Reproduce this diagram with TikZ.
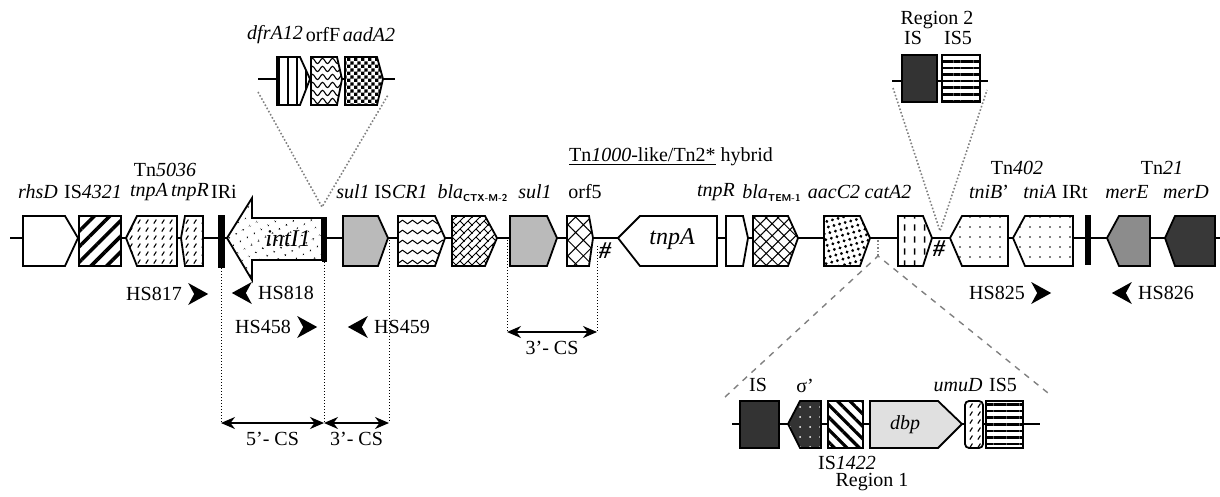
\documentclass[tikz,border=0pt]{standalone}
\usepackage{fontspec}
\setmainfont{Liberation Serif}
\usetikzlibrary{patterns.meta,arrows.meta}

% fill patterns for the genes
\tikzdeclarepattern{name=short dashes, type=uncolored,
  bounding box={(0pt,0pt) and (4pt,4pt)}, tile size={(4pt,4pt)},
  code={\draw[line width=0.6pt] (1pt,0.8pt) -- (2.4pt,3pt);}}
\tikzdeclarepattern{name=waves, type=uncolored,
  bounding box={(-0.3pt,0pt) and (5.3pt,5pt)}, tile size={(5pt,5pt)},
  code={\draw[line width=0.5pt] (0pt,2.5pt) sin (1.25pt,3.4pt) cos (2.5pt,2.5pt) sin (3.75pt,1.6pt) cos (5pt,2.5pt);}}
\tikzdeclarepattern{name=big waves, type=uncolored,
  bounding box={(-0.3pt,0pt) and (5.3pt,4pt)}, tile size={(5pt,4pt)},
  code={\draw[line width=0.55pt] (0pt,2pt) sin (1.25pt,3.3pt) cos (2.5pt,2pt) sin (3.75pt,0.7pt) cos (5pt,2pt);}}
\tikzdeclarepattern{name=herringbone, type=uncolored,
  bounding box={(-0.5pt,-0.5pt) and (4.5pt,4.5pt)}, tile size={(4pt,4pt)},
  code={\draw[line width=0.5pt] (-0.3pt,-0.3pt) -- (4.3pt,4.3pt);
        \draw[line width=0.5pt] (2pt,2pt) -- (4.3pt,-0.3pt);}}
\tikzdeclarepattern{name=vdashes, type=uncolored,
  bounding box={(0pt,0pt) and (5pt,6pt)}, tile size={(5pt,6pt)},
  code={\draw[line width=0.9pt] (2.5pt,1.2pt) -- (2.5pt,4.6pt);}}
\tikzdeclarepattern{name=checker, type=uncolored,
  bounding box={(0pt,0pt) and (3.4pt,3.4pt)}, tile size={(3.4pt,3.4pt)},
  code={\fill (0pt,0pt) rectangle (1.7pt,1.7pt) (1.7pt,1.7pt) rectangle (3.4pt,3.4pt);}}

\begin{document}
\begin{tikzpicture}[
    x=0.5pt, y=-0.5pt,
    backbone/.style={line width=0.9pt},
    gene/.style={draw, line width=0.9pt, preaction={fill=white}},
    white gene/.style={},
    sul gene/.style={fill=black!27},
    mer gray/.style={fill=black!45},
    mer dark/.style={fill=black!78},
    dark box/.style={fill=black!80},
    iscr/.style={pattern=waves},
    ctx/.style={pattern=herringbone},
    cross/.style={pattern={Hatch[angle=45, distance=4.2pt, line width=0.5pt]}},
    wide cross/.style={pattern={Hatch[angle=45, distance=5.5pt, line width=0.5pt]}},
    aac/.style={pattern={Dots[distance=2.9pt, radius=0.8pt, angle=15]}},
    cat/.style={pattern=vdashes},
    tni/.style={pattern={Dots[distance=5pt, radius=0.45pt]}},
    int/.style={pattern={Dots[distance=4pt, radius=0.45pt, angle=30]}},
    tnp dash/.style={pattern=short dashes},
    is stripes/.style={pattern={Lines[angle=45, distance=5.5pt, line width=1.8pt]}},
    is back/.style={pattern={Lines[angle=-45, distance=4.4pt, line width=1.6pt]}},
    h stripes/.style={pattern={Lines[angle=0, distance=3.3pt, line width=1.3pt]}},
    v lines/.style={pattern={Lines[angle=90, distance=4.5pt, line width=0.6pt]}},
    sigma/.style={preaction={fill=black!80}, pattern={Dots[distance=5pt, radius=0.5pt]}, pattern color=white},
    dbp fill/.style={fill=black!12},
    ir bar/.style={fill=black},
    primer/.style={fill=black},
    zoom dots/.style={gray, densely dotted, line width=0.8pt},
    zoom dash/.style={gray, dashed, line width=0.7pt},
    guide/.style={densely dotted, line width=0.5pt},
    cs arrow/.style={<->, >={Stealth[length=7pt, width=6pt]}, line width=0.9pt},
    lbl/.style={inner sep=1pt}
  ]
  \useasboundingbox (0,0) rectangle (1220,497);

  % ---------------------------------------------------------
  % Main backbone
  % ---------------------------------------------------------
  \draw[backbone] (10,238) -- (1220,238);

  % genes pointing right
  \foreach \a/\b/\n/\s in {23/78/13/white gene, 343/388/10/sul gene, 398/445/10/iscr,
      452/497/12/ctx, 510/557/10/sul gene, 567/593/4/wide cross, 726/748/5/white gene,
      753/798/10/cross, 824/870/10/aac, 898/932/9/cat} {
    \draw[gene,\s] (\a,216) -- (\b-\n,216) -- (\b,238) -- (\b-\n,266) -- (\a,266) -- cycle;
  }

  % genes pointing left
  \foreach \a/\b/\n/\s in {79/121/0/is stripes, 126/177/11/tnp dash, 181/203/4/tnp dash,
      618/717/22/white gene, 950/1008/12/tni, 1013/1073/12/tni,
      1107/1150/12/mer gray, 1165/1215/10/mer dark} {
    \draw[gene,\s] (\a,238) -- (\a+\n,216) -- (\b,216) -- (\b,266) -- (\a+\n,266) -- cycle;
  }

  % intI1 and the inverted repeats
  \draw[gene,int] (227,238) -- (252,198) -- (252,218) -- (322,218) -- (322,260)
    -- (252,260) -- (252,280) -- cycle;
  \fill[ir bar] (218,215) rectangle (225,268);
  \fill[ir bar] (322,217) rectangle (327,262);
  \fill[ir bar] (1085,215) rectangle (1091,265);

  \node[font=\large\itshape] (intI1) at (288,239) {intI1};
  \node[font=\large\itshape] (tnpAbig) at (672,239) {tnpA};
  \node[font=\large\bfseries\itshape, inner sep=0pt] (hash1) at (605,251) {\#};
  \node[font=\large\bfseries\itshape, inner sep=0pt] (hash2) at (939,249) {\#};

  % gene labels
  \node[lbl] (rhsD) at (38,192) {\textit{rhsD}};
  \node[lbl] (IS4321) at (93,192) {IS\textit{4321}};
  \node[lbl] (tnpA1) at (149,192) {\textit{tnpA}};
  \node[lbl] (tnpR1) at (190,192) {\textit{tnpR}};
  \node[lbl] (IRi) at (224,192) {IRi};
  \node[lbl] (Tn5036) at (165,170) {Tn\textit{5036}};
  \node[lbl] (sul1a) at (353,192) {\textit{sul1}};
  \node[lbl] (ISCR1) at (401,192) {IS\textit{CR1}};
  \node[lbl] (blaCTX) at (473,193) {\textit{bla}\textsubscript{\sffamily\bfseries\tiny CTX-M-2}};
  \node[lbl] (sul1b) at (535,192) {\textit{sul1}};
  \node[lbl] (orf5) at (585,192) {orf5};
  \node[lbl] (hybrid) at (671,157) {\underline{Tn\textit{1000}-like/Tn2*} hybrid};
  \node[lbl] (tnpR2) at (716,192) {\textit{tnpR}};
  \node[lbl] (blaTEM) at (772,193) {\textit{bla}\textsubscript{\sffamily\bfseries\tiny TEM-1}};
  \node[lbl] (aacC2) at (834,192) {\textit{aacC2}};
  \node[lbl] (catA2) at (888,192) {\textit{catA2}};
  \node[lbl] (Tn402) at (1017,168) {Tn\textit{402}};
  \node[lbl] (tniB) at (989,192) {\textit{tniB}'};
  \node[lbl] (tniA) at (1040,192) {\textit{tniA}};
  \node[lbl] (IRt) at (1075,192) {IRt};
  \node[lbl] (Tn21) at (1162,168) {Tn\textit{21}};
  \node[lbl] (merE) at (1127,192) {\textit{merE}};
  \node[lbl] (merD) at (1186,192) {\textit{merD}};

  % ---------------------------------------------------------
  % Primers
  % ---------------------------------------------------------
  \foreach \nm/\x/\y/\t in {hs817/154/294/HS817, hs458/263/327/HS458, hs825/997/293/HS825} {
    \node[lbl] (\nm) at (\x,\y) {\t};
    \fill[primer] ([xshift=2pt]\nm.east) ++(0,-11) -- ++(20,11) -- ++(-20,11) -- ++(6,-11) -- cycle;
  }
  \foreach \nm/\x/\y/\t in {hs818/286/293/HS818, hs459/402/327/HS459, hs826/1166/293/HS826} {
    \node[lbl] (\nm) at (\x,\y) {\t};
    \fill[primer] ([xshift=-2pt]\nm.west) ++(0,-11) -- ++(-20,11) -- ++(20,11) -- ++(-6,-11) -- cycle;
  }

  % ---------------------------------------------------------
  % Conserved segments
  % ---------------------------------------------------------
  \coordinate (g1) at (221,268);  \coordinate (c1) at (221,423);
  \coordinate (g2) at (324,262);  \coordinate (c2) at (324,423);
  \coordinate (g3) at (389,240);  \coordinate (c3) at (389,423);
  \coordinate (g4) at (507,240);  \coordinate (c4) at (507,332);
  \coordinate (g5) at (597,246);  \coordinate (c5) at (597,332);
  \foreach \i in {1,...,5} {
    \draw[guide] (g\i) -- (c\i);
  }
  \draw[cs arrow] (c1) -- (c2) node[midway, below=3pt, lbl] (cs5) {5'- CS};
  \draw[cs arrow] (c2) -- (c3) node[midway, below=3pt, lbl] (cs3a) {3'- CS};
  \draw[cs arrow] (c4) -- (c5) node[midway, below=3pt, lbl] (cs3b) {3'- CS};

  % ---------------------------------------------------------
  % Cassette array (top left)
  % ---------------------------------------------------------
  \draw[backbone] (258,79) -- (395,79);
  \draw[gene,v lines] (277,57) -- (300,57) -- (310,79) -- (300,105) -- (277,105) -- cycle;
  \draw[gene,pattern=big waves] (311,57) -- (337,57) -- (342,79) -- (337,105) -- (311,105) -- cycle;
  \draw[gene,pattern=checker] (345,57) -- (377,57) -- (383,79) -- (377,105) -- (345,105) -- cycle;
  \node[lbl] (dfrA12) at (275,35) {\textit{dfrA12}};
  \node[lbl] (orfF) at (323,35) {orfF};
  \node[lbl] (aadA2) at (369,35) {\textit{aadA2}};
  \coordinate (in1l) at (258,92);
  \coordinate (in1r) at (388,95);
  \coordinate (in1v) at (322,207);
  \draw[zoom dots] (in1l) -- (in1v) -- (in1r);

  % ---------------------------------------------------------
  % Region 2 (top right)
  % ---------------------------------------------------------
  \draw[backbone] (892,81) -- (988,81);
  \draw[gene,dark box] (902,55) rectangle (937,102);
  \draw[gene,h stripes] (942,55) rectangle (980,102);
  \node[lbl] (reg2) at (937,20) {Region 2};
  \node[lbl] (IS2) at (913,38) {IS};
  \node[lbl] (IS5b) at (958,38) {IS5};
  \coordinate (in2l) at (893,88);
  \coordinate (in2r) at (987,90);
  \coordinate (in2v) at (940,231);
  \draw[zoom dots] (in2l) -- (in2v) -- (in2r);

  % ---------------------------------------------------------
  % Region 1 (bottom right)
  % ---------------------------------------------------------
  \draw[backbone] (732,424) -- (1040,424);
  \draw[gene,dark box] (740,401) rectangle (779,448);
  \draw[gene,sigma] (788,424) -- (800,401) -- (821,401) -- (821,448) -- (800,448) -- cycle;
  \draw[gene,is back] (828,401) rectangle (863,448);
  \draw[gene,dbp fill] (870,401) -- (938,401) -- (962,424) -- (938,448) -- (870,448) -- cycle;
  \draw[gene,tnp dash,rounded corners=2pt] (965,401) rectangle (983,448);
  \draw[gene,h stripes] (986,401) rectangle (1023,448);
  \node[font=\itshape] (dbp) at (905,425) {dbp};
  \node[lbl] (IS1) at (758,385) {IS};
  \node[lbl] (sig) at (805,386) {σ'};
  \node[lbl] (umuD) at (958,385) {\textit{umuD}};
  \node[lbl] (IS5a) at (1003,385) {IS5};
  \node[lbl] (IS1422) at (847,463) {IS\textit{1422}};
  \node[lbl] (reg1) at (872,482) {Region 1};
  \coordinate (r1top) at (878,240);
  \coordinate (r1v) at (878,256);
  \coordinate (r1l) at (725,397);
  \coordinate (r1r) at (1048,393);
  \draw[zoom dots] (r1top) -- (r1v);
  \draw[zoom dash] (r1l) -- (r1v) -- (r1r);
\end{tikzpicture}
\end{document}
